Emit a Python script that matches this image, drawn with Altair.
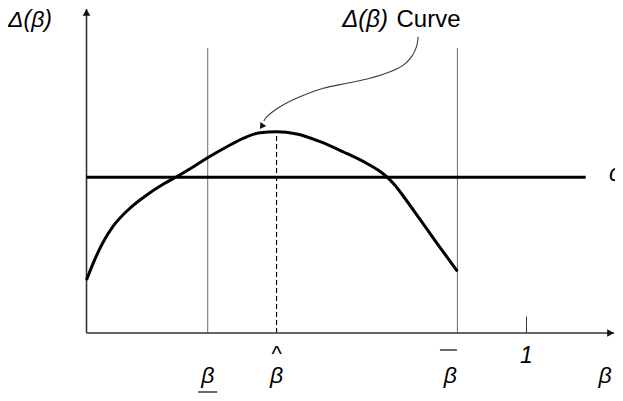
import altair as alt
import pandas as pd

# ---------------- data ----------------
# Δ(β) curve, x = β (1 at the "1" tick), y in units where c = 1
curve_x = [0.000, 0.015, 0.038, 0.061, 0.099, 0.137, 0.175, 0.205, 0.243, 0.277,
           0.319, 0.356, 0.394, 0.432, 0.478, 0.531, 0.584, 0.6375, 0.6625, 0.6852,
           0.7011, 0.7193, 0.758, 0.7966, 0.843]
curve_y = [0.340, 0.447, 0.584, 0.687, 0.802, 0.886, 0.956, 1.003, 1.067, 1.128,
           1.196, 1.250, 1.286, 1.292, 1.277, 1.228, 1.162, 1.088, 1.046, 0.996,
           0.948, 0.881, 0.729, 0.576, 0.396]

c_level = 1.0
c_line_end = 1.1345
beta_low = 0.2755
beta_hat = 0.432
beta_high = 0.843
one = 1.0
peak_value = 1.292
ref_top = 1.83
tick_one_top = 0.105
x_axis_end = 1.199
y_axis_end = 2.08
beta_axis_label_x = 1.1784
c_label_x = 1.1875

# annotation arrow path ("Δ(β) Curve" -> curve peak)
ann_x = [0.754, 0.750, 0.739, 0.720, 0.690, 0.644, 0.591, 0.538, 0.485, 0.440, 0.410, 0.403]
ann_y = [1.902, 1.838, 1.774, 1.720, 1.677, 1.635, 1.603, 1.571, 1.517, 1.453, 1.389, 1.361]
ann_tip_x = [0.398]
ann_tip_y = [1.326]

FONT = "Liberation Sans"
AXIS_COLOR = "#333333"
THIN_COLOR = "#6a6a6a"


def X(f="x"):
    return alt.X(f, type="quantitative",
                 scale=alt.Scale(domain=[0, 1.2], nice=False, zero=False), axis=None)


def Y(f="y"):
    return alt.Y(f, type="quantitative",
                 scale=alt.Scale(domain=[0, 2.08], nice=False, zero=False), axis=None)


# ---------------- axes ----------------
x_axis = alt.Chart(pd.DataFrame({"x": [0], "x2": [x_axis_end], "y": [0]})).mark_rule(
    color=AXIS_COLOR, strokeWidth=1.6).encode(x=X("x"), x2="x2", y=Y("y"))
y_axis = alt.Chart(pd.DataFrame({"x": [0], "y": [0], "y2": [y_axis_end]})).mark_rule(
    color=AXIS_COLOR, strokeWidth=1.6).encode(x=X("x"), y=Y("y"), y2="y2")
x_arrow = alt.Chart(pd.DataFrame({"x": [x_axis_end], "y": [0]})).mark_point(
    shape="triangle-right", filled=True, size=60, color="#111111", opacity=1, xOffset=-3.5
).encode(x=X("x"), y=Y("y"))
y_arrow = alt.Chart(pd.DataFrame({"x": [0], "y": [y_axis_end]})).mark_point(
    shape="triangle-up", filled=True, size=60, color="#111111", opacity=1, yOffset=3.5
).encode(x=X("x"), y=Y("y"))

# ---------------- reference lines ----------------
verticals = alt.Chart(pd.DataFrame({"x": [beta_low, beta_high], "y": [0, 0],
                                    "y2": [ref_top, ref_top]})).mark_rule(
    color=THIN_COLOR, strokeWidth=1).encode(x=X("x"), y=Y("y"), y2="y2")
dashed = alt.Chart(pd.DataFrame({"x": [beta_hat], "y": [0], "y2": [peak_value]})).mark_rule(
    color="#000000", strokeWidth=1.1, strokeDash=[5, 3]).encode(x=X("x"), y=Y("y"), y2="y2")
tick_one = alt.Chart(pd.DataFrame({"x": [one], "y": [0], "y2": [tick_one_top]})).mark_rule(
    color=AXIS_COLOR, strokeWidth=1).encode(x=X("x"), y=Y("y"), y2="y2")
c_line = alt.Chart(pd.DataFrame({"x": [0], "x2": [c_line_end], "y": [c_level]})).mark_rule(
    color="#000000", strokeWidth=3).encode(x=X("x"), x2="x2", y=Y("y"))

# ---------------- curve ----------------
curve = alt.Chart(pd.DataFrame({"x": curve_x, "y": curve_y})).mark_line(
    color="#000000", strokeWidth=3, interpolate="monotone").encode(x=X("x"), y=Y("y"))

# ---------------- annotation ----------------
ann = alt.Chart(pd.DataFrame({"x": ann_x, "y": ann_y, "i": list(range(len(ann_x)))})).mark_line(
    color="#3a3a3a", strokeWidth=1.1, interpolate="catmull-rom").encode(
    x=X("x"), y=Y("y"), order="i:Q")
ann_head = alt.Chart(pd.DataFrame({"x": ann_tip_x, "y": ann_tip_y})).mark_point(
    shape="triangle-up", filled=True, size=50, angle=214, color="#111111", opacity=1
).encode(x=X("x"), y=Y("y"))
ann_text1 = alt.Chart(pd.DataFrame({"t": ["Δ(β)"]})).mark_text(
    font=FONT, fontSize=24, fontStyle="italic", align="right", baseline="alphabetic",
    color="#000000").encode(text="t:N", x=alt.value(301.5), y=alt.value(18))
ann_text2 = alt.Chart(pd.DataFrame({"t": ["Curve"]})).mark_text(
    font=FONT, fontSize=24, align="left", baseline="alphabetic",
    color="#000000").encode(text="t:N", x=alt.value(310), y=alt.value(18))

# ---------------- labels ----------------
y_title = alt.Chart(pd.DataFrame({"t": ["Δ(β)"]})).mark_text(
    font=FONT, fontSize=23, fontStyle="italic", align="center", baseline="middle",
    color="#000000").encode(text="t:N", x=alt.value(-56.5), y=alt.value(11))

c_label = alt.Chart(pd.DataFrame({"x": [c_label_x], "y": [c_level], "t": ["c"]})).mark_text(
    font=FONT, fontSize=23, fontStyle="italic", align="left", baseline="middle", dy=-3,
    color="#000000").encode(x=X("x"), y=Y("y"), text="t:N")

beta_labels = alt.Chart(pd.DataFrame({"x": [beta_low, beta_hat, beta_axis_label_x],
                                      "y": [0, 0, 0], "t": ["β", "β", "β"]})).mark_text(
    font=FONT, fontSize=23, fontStyle="italic", align="center", baseline="middle", dy=43,
    color="#000000").encode(x=X("x"), y=Y("y"), text="t:N")
beta_high_label = alt.Chart(pd.DataFrame({"x": [beta_high], "y": [0], "t": ["β"]})).mark_text(
    font=FONT, fontSize=23, fontStyle="italic", align="center", baseline="middle", dy=43, dx=-7,
    color="#000000").encode(x=X("x"), y=Y("y"), text="t:N")
hat = alt.Chart(pd.DataFrame({"x": [beta_hat], "y": [0], "t": ["^"]})).mark_text(
    font=FONT, fontSize=22, align="center", baseline="middle", dy=21,
    color="#000000").encode(x=X("x"), y=Y("y"), text="t:N")
one_label = alt.Chart(pd.DataFrame({"x": [one], "y": [0], "t": ["1"]})).mark_text(
    font=FONT, fontSize=23, fontStyle="italic", align="center", baseline="middle", dy=23,
    color="#000000").encode(x=X("x"), y=Y("y"), text="t:N")

underline = alt.Chart(pd.DataFrame({"x": [beta_low], "y": [0]})).mark_rule(
    color="#000000", strokeWidth=1.2, xOffset=-9.5, x2Offset=9.5, yOffset=59
).encode(x=X("x"), x2="x", y=Y("y"))
overline = alt.Chart(pd.DataFrame({"x": [beta_high], "y": [0]})).mark_rule(
    color="#000000", strokeWidth=1.2, xOffset=-17.5, x2Offset=-0.5, yOffset=17
).encode(x=X("x"), x2="x", y=Y("y"))

chart = alt.layer(
    verticals, dashed, tick_one, x_axis, y_axis, x_arrow, y_arrow,
    c_line, curve, ann, ann_head, ann_text1, ann_text2,
    y_title, c_label, beta_labels, beta_high_label, hat, one_label, underline, overline
).properties(
    width=528, height=324,
    autosize=alt.AutoSizeParams(type="none"),
    padding={"left": 78.5, "top": 1, "right": 0.5, "bottom": 60},
    background="white",
).configure_view(stroke=None)

chart.save("out.html", embed_options={"renderer": "svg", "actions": False})
